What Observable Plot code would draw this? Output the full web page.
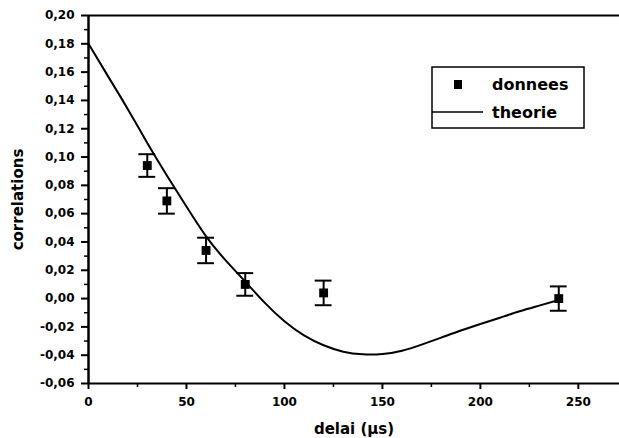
<!DOCTYPE html>
<html><head><meta charset="utf-8">
<script src="https://cdn.jsdelivr.net/npm/d3@7"></script>
<script src="https://cdn.jsdelivr.net/npm/@observablehq/plot@0.6"></script>
<style>body{margin:0;background:#fff}</style>
</head><body><div id="chart"></div>
<script>
// measured data (delai in µs)
const delai = [30, 40, 60, 80, 120, 240];
const correlations = [0.094, 0.069, 0.034, 0.010, 0.004, 0.000];
const erreurs = [0.008, 0.009, 0.009, 0.008, 0.0087, 0.0086];

// theory curve
const theorieX = [0, 10, 20, 30, 40, 50, 60, 70, 80, 90, 100, 110, 120, 130, 140, 150, 160, 170, 180, 190, 200, 210, 220, 230, 240];
const theorieY = [0.180, 0.157, 0.134, 0.110, 0.087, 0.065, 0.044, 0.027, 0.012, -0.003, -0.016, -0.026, -0.033, -0.0375, -0.0394, -0.0392, -0.0368, -0.0325, -0.0276, -0.0226, -0.018, -0.0135, -0.009, -0.005, -0.001];

// ticks
const xTicks = [0, 50, 100, 150, 200, 250];
const xMinor = [25, 75, 125, 175, 225];
const yTicks = [-0.06, -0.04, -0.02, 0.00, 0.02, 0.04, 0.06, 0.08, 0.10, 0.12, 0.14, 0.16, 0.18, 0.20];
const yMinor = [-0.05, -0.03, -0.01, 0.01, 0.03, 0.05, 0.07, 0.09, 0.11, 0.13, 0.15, 0.17, 0.19];

const legendLabels = ["donnees", "theorie"];

const data = delai.map((x, i) => ({x, y: correlations[i], e: erreurs[i]}));
const theory = theorieX.map((x, i) => ({x, y: theorieY[i]}));

const fmt = d => (d < -1e-9 ? "-" : "") + Math.abs(d).toFixed(2).replace(".", ",");
const capHalf = 4.3;

const plot = Plot.plot({
  width: 619, height: 438,
  marginLeft: 88, marginRight: 0, marginTop: 15, marginBottom: 55,
  style: {fontFamily: "DejaVu Sans", fontWeight: "bold", fontSize: "12px", background: "white", color: "black"},
  x: {domain: [0, 271]},
  y: {domain: [-0.06, 0.20]},
  marks: [
    Plot.axisY(yMinor, {tickSize: 4, tickFormat: () => "", label: null, strokeWidth: 1.5}),
    Plot.axisY(yTicks, {tickSize: 7, tickPadding: 7, tickFormat: fmt, label: null, strokeWidth: 2}),
    Plot.axisX(xMinor, {tickSize: 4, tickFormat: () => "", label: null, strokeWidth: 1.5}),
    Plot.axisX(xTicks, {tickSize: 6, tickPadding: 8, label: null, strokeWidth: 2}),
    Plot.ruleX([0], {strokeWidth: 2.5}),
    Plot.ruleY([-0.06, 0.20], {strokeWidth: 2}),
    Plot.line(theory, {x: "x", y: "y", curve: "natural", strokeWidth: 2}),
    Plot.ruleX(data, {x: "x", y1: d => d.y - d.e, y2: d => d.y + d.e, strokeWidth: 2}),
    Plot.ruleY(data, {y: d => d.y + d.e, x1: d => d.x - capHalf, x2: d => d.x + capHalf, strokeWidth: 2}),
    Plot.ruleY(data, {y: d => d.y - d.e, x1: d => d.x - capHalf, x2: d => d.x + capHalf, strokeWidth: 2}),
    Plot.dot(data, {x: "x", y: "y", symbol: "square", r: 5, fill: "black", stroke: null}),
    Plot.text(["delai (µs)"], {frameAnchor: "bottom", dy: 50, lineAnchor: "bottom", fontSize: 15}),
    Plot.text(["correlations"], {frameAnchor: "left", dx: -70, rotate: -90, textAnchor: "middle", fontSize: 15})
  ]
});

// legend
const svg = d3.select(plot);
const lg = svg.append("g").attr("font-family", "DejaVu Sans").attr("font-weight", "bold")
  .attr("font-size", 16).attr("text-anchor", "start");
lg.append("rect").attr("x", 432).attr("y", 67).attr("width", 152).attr("height", 61)
  .attr("fill", "white").attr("stroke", "black").attr("stroke-width", 1.5);
lg.append("rect").attr("x", 454).attr("y", 80).attr("width", 8).attr("height", 9).attr("fill", "black");
lg.append("text").attr("x", 492).attr("y", 90).text(legendLabels[0]);
lg.append("line").attr("x1", 432).attr("x2", 483).attr("y1", 112).attr("y2", 112)
  .attr("stroke", "black").attr("stroke-width", 1.5);
lg.append("text").attr("x", 492).attr("y", 118).text(legendLabels[1]);

document.getElementById("chart").appendChild(plot);
</script>
</body></html>
